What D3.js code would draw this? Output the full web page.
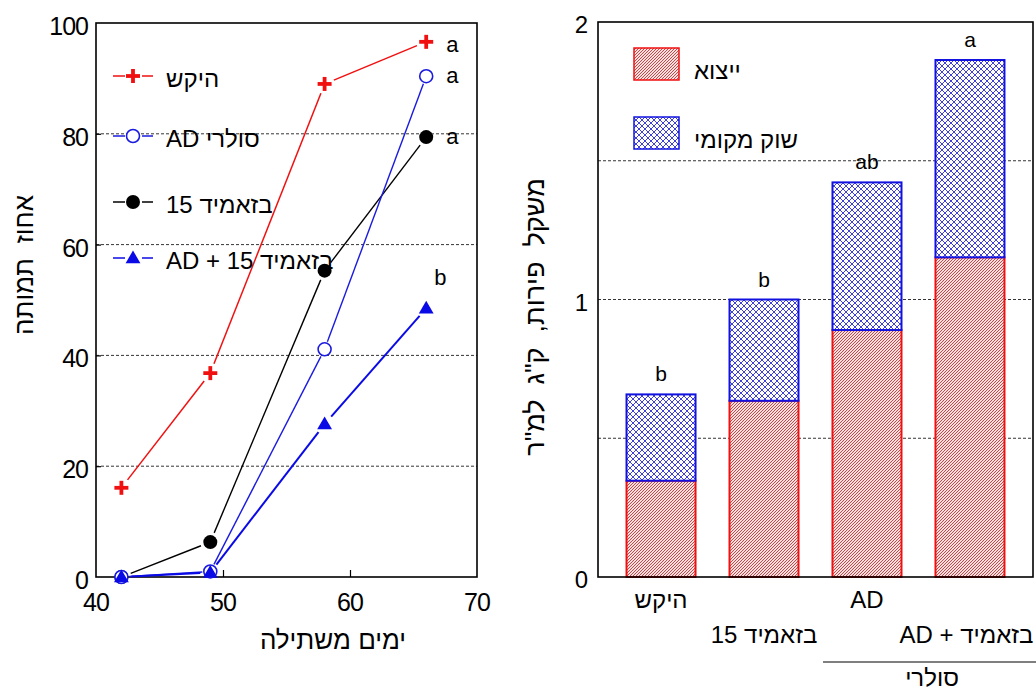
<!DOCTYPE html>
<html>
<head>
<meta charset="utf-8">
<script src="https://cdn.jsdelivr.net/npm/d3@7"></script>
<style>
  html, body { margin: 0; padding: 0; background: #fff; }
  svg { display: block; }
  text { font-family: "Liberation Sans", Arial, sans-serif; fill: #000; }
</style>
</head>
<body>
<svg id="chart" width="1036" height="693"></svg>
<script>
// ---- Mortality over time (left panel) ----
const days = [42, 49, 58, 66];
const xTicks = [40, 50, 60, 70];
const yTicksLeft = [0, 20, 40, 60, 80, 100];
const seriesNames = ["היקש", "AD סולרי", "15 בזאמיד", "AD + 15 בזאמיד"];
const controlVals = [16.1, 36.8, 89.0, 96.6];
const solarADVals = [0, 1.0, 41.1, 90.4];
const basamidVals = [0, 6.3, 55.3, 79.4];
const basamidADVals = [0, 0.8, 27.6, 48.5];
const mortalityLetters = ["a", "a", "a", "b"];

// ---- Fruit yield (right panel) ----
const treatments = ["היקש", "15 בזאמיד", "AD", "AD + בזאמיד"];
const exportVals = [0.347, 0.635, 0.890, 1.152];
const localVals = [0.311, 0.365, 0.532, 0.711];
const yieldLetters = ["b", "b", "ab", "a"];
const yTicksRight = [0, 1, 2];
const yGridRight = [0.5, 1, 1.5];
const stackNames = ["ייצוא", "שוק מקומי"];

const svg = d3.select("#chart");

// patterns for the stacked bars
const defs = svg.append("defs");
const hatch = defs.append("pattern").attr("id", "hatchRed")
  .attr("patternUnits", "userSpaceOnUse").attr("width", 3).attr("height", 3);
hatch.append("rect").attr("width", 3).attr("height", 3).attr("fill", "#f8e0e0");
hatch.append("path").attr("d", "M-1,1 l2,-2 M0,3 l3,-3 M2,4 l2,-2")
  .attr("stroke", "#bf3535").attr("stroke-width", 0.9);

const cross = defs.append("pattern").attr("id", "crossBlue")
  .attr("patternUnits", "userSpaceOnUse").attr("width", 6).attr("height", 6);
cross.append("rect").attr("width", 6).attr("height", 6).attr("fill", "#fff");
cross.append("path").attr("d", "M0,0 L6,6 M6,0 L0,6 M-1,5 l2,2 M5,-1 l2,2 M-1,1 l2,-2 M5,7 l2,-2")
  .attr("stroke", "#2a2ad0").attr("stroke-width", 0.9);

/* ================= LEFT PANEL ================= */
const xL = d3.scaleLinear().domain([40, 70]).range([96, 477]);
const yL = d3.scaleLinear().domain([0, 100]).range([577, 23]);
const left = svg.append("g");

// dashed gridlines
left.selectAll("line.grid").data([20, 40, 60, 80]).enter().append("line")
  .attr("x1", xL(40)).attr("x2", xL(70))
  .attr("y1", d => yL(d)).attr("y2", d => yL(d))
  .attr("stroke", "#000").attr("stroke-width", 0.8).attr("stroke-dasharray", "3,2");

// axes (ticks inward, labels drawn separately)
const axL = left.append("g").attr("transform", `translate(${xL(40)},0)`)
  .call(d3.axisRight(yL).tickValues([20, 40, 60, 80]).tickSize(5).tickFormat(""));
const axB = left.append("g").attr("transform", `translate(0,${yL(0)})`)
  .call(d3.axisTop(xL).tickValues([50, 60]).tickSize(7).tickFormat(""));
[axL, axB].forEach(a => { a.select(".domain").remove(); a.selectAll("line").attr("stroke-width", 1.2); });

left.selectAll("text.ytick").data(yTicksLeft).enter().append("text")
  .attr("x", 88).attr("y", d => yL(d) + 12).attr("text-anchor", "end")
  .attr("font-size", 25).attr("letter-spacing", -1).text(d => d);
left.selectAll("text.xtick").data(xTicks).enter().append("text")
  .attr("x", d => xL(d)).attr("y", 611).attr("text-anchor", "middle")
  .attr("font-size", 25).attr("letter-spacing", -1).text(d => d);

left.append("rect").attr("x", xL(40)).attr("y", yL(100))
  .attr("width", xL(70) - xL(40)).attr("height", yL(0) - yL(100))
  .attr("fill", "none").attr("stroke", "#000").attr("stroke-width", 1.6);

left.append("text").attr("x", 333).attr("y", 649).attr("text-anchor", "middle")
  .attr("font-size", 26).text("ימים משתילה");
left.append("text").attr("transform", "translate(33,265) rotate(-90)")
  .attr("text-anchor", "middle").attr("font-size", 26)
  .style("white-space", "pre").text("אחוז  תמותה");

// marker drawing
function drawMarker(g, kind, cx, cy) {
  if (kind === "cross") {
    g.append("line").attr("x1", cx - 7).attr("x2", cx + 7).attr("y1", cy).attr("y2", cy)
      .attr("stroke", "#f01010").attr("stroke-width", 3.8);
    g.append("line").attr("x1", cx).attr("x2", cx).attr("y1", cy - 7).attr("y2", cy + 7)
      .attr("stroke", "#f01010").attr("stroke-width", 3.8);
  } else if (kind === "circle") {
    g.append("circle").attr("cx", cx).attr("cy", cy).attr("r", 6.5)
      .attr("fill", "#fff").attr("stroke", "#1a1ae0").attr("stroke-width", 1.6);
  } else if (kind === "dot") {
    g.append("circle").attr("cx", cx).attr("cy", cy).attr("r", 7).attr("fill", "#000");
  } else {
    g.append("path").attr("transform", `translate(${cx},${cy + 1})`)
      .attr("d", d3.symbol(d3.symbolTriangle, 95)()).attr("fill", "#0a0ae6");
  }
}

const series = [
  { name: seriesNames[0], vals: controlVals, kind: "cross", color: "#f01010", w: 1.5, gap: 10 },
  { name: seriesNames[2], vals: basamidVals, kind: "dot", color: "#000", w: 1.4, gap: 10 },
  { name: seriesNames[1], vals: solarADVals, kind: "circle", color: "#1a1ae0", w: 1.4, gap: 8 },
  { name: seriesNames[3], vals: basamidADVals, kind: "triangle", color: "#0a0ae6", w: 2, gap: 10 }
];
const letterOf = { [seriesNames[0]]: mortalityLetters[0], [seriesNames[1]]: mortalityLetters[1],
                   [seriesNames[2]]: mortalityLetters[2], [seriesNames[3]]: mortalityLetters[3] };

series.forEach(s => {
  const g = left.append("g");
  const pts = days.map((d, i) => [xL(d), yL(s.vals[i])]);
  // connecting segments stop short of each symbol
  for (let i = 0; i < pts.length - 1; i++) {
    const [x1, y1] = pts[i], [x2, y2] = pts[i + 1];
    const len = Math.hypot(x2 - x1, y2 - y1);
    if (len <= 2 * s.gap) continue;
    const ux = (x2 - x1) / len, uy = (y2 - y1) / len;
    g.append("line")
      .attr("x1", x1 + ux * s.gap).attr("y1", y1 + uy * s.gap)
      .attr("x2", x2 - ux * s.gap).attr("y2", y2 - uy * s.gap)
      .attr("stroke", s.color).attr("stroke-width", s.w);
  }
  pts.forEach(p => drawMarker(g, s.kind, p[0], p[1]));
  // significance letter next to the final point
  const last = pts[pts.length - 1];
  const letter = letterOf[s.name];
  if (letter === "b") {
    left.append("text").attr("x", last[0] + 8).attr("y", last[1] - 23)
      .attr("font-size", 22).text(letter);
  } else {
    left.append("text").attr("x", last[0] + 20).attr("y", last[1] + 7 + (s.kind === "cross" ? 3 : 0))
      .attr("font-size", 22).text(letter);
  }
});

// legend
const legendRows = [
  { name: seriesNames[0], kind: "cross", color: "#f01010", y: 76 },
  { name: seriesNames[1], kind: "circle", color: "#1a1ae0", y: 136 },
  { name: seriesNames[2], kind: "dot", color: "#000", y: 202 },
  { name: seriesNames[3], kind: "triangle", color: "#0a0ae6", y: 258 }
];
legendRows.forEach(r => {
  const g = left.append("g");
  g.append("line").attr("x1", 113).attr("x2", 125).attr("y1", r.y).attr("y2", r.y)
    .attr("stroke", r.color).attr("stroke-width", 1.5);
  g.append("line").attr("x1", 142).attr("x2", 153).attr("y1", r.y).attr("y2", r.y)
    .attr("stroke", r.color).attr("stroke-width", 1.5);
  drawMarker(g, r.kind, 133, r.y);
  g.append("text").attr("x", 166).attr("y", r.y + 11).attr("font-size", 24).text(r.name);
});

/* ================= RIGHT PANEL ================= */
const xR = d3.scaleBand().domain(treatments).range([598, 1033])
  .paddingInner(0.33).paddingOuter(0.277);
const yR = d3.scaleLinear().domain([0, 2]).range([577, 22]);
const right = svg.append("g");

right.selectAll("line.grid").data(yGridRight).enter().append("line")
  .attr("x1", 598).attr("x2", 1033)
  .attr("y1", d => yR(d)).attr("y2", d => yR(d))
  .attr("stroke", "#000").attr("stroke-width", 0.8).attr("stroke-dasharray", "3,2");

const stackData = treatments.map((t, i) => ({ t, exp: exportVals[i], loc: localVals[i] }));
const stacked = d3.stack().keys(["exp", "loc"])(stackData);
const fills = { exp: "url(#hatchRed)", loc: "url(#crossBlue)" };
const strokes = { exp: "#f01010", loc: "#1212e0" };

stacked.forEach(layer => {
  right.append("g").selectAll("rect").data(layer).enter().append("rect")
    .attr("x", d => xR(d.data.t))
    .attr("y", d => yR(d[1]))
    .attr("width", xR.bandwidth())
    .attr("height", d => yR(d[0]) - yR(d[1]))
    .attr("fill", fills[layer.key])
    .attr("stroke", strokes[layer.key]).attr("stroke-width", 2);
});

right.selectAll("text.sig").data(stackData).enter().append("text")
  .attr("x", d => xR(d.t) + xR.bandwidth() / 2)
  .attr("y", d => yR(d.exp + d.loc) - 13)
  .attr("text-anchor", "middle").attr("font-size", 21)
  .text((d, i) => yieldLetters[i]);

right.append("rect").attr("x", 598).attr("y", yR(2))
  .attr("width", 1033 - 598).attr("height", yR(0) - yR(2))
  .attr("fill", "none").attr("stroke", "#000").attr("stroke-width", 1.6);

right.selectAll("text.ytick").data(yTicksRight).enter().append("text")
  .attr("x", 588).attr("y", d => yR(d) + 11).attr("text-anchor", "end")
  .attr("font-size", 24).text(d => d);

right.append("text").attr("transform", "translate(544,317) rotate(-90)")
  .attr("text-anchor", "middle").attr("font-size", 27)
  .style("white-space", "pre").text("משקל  פירות,  ק\"ג  למ\"ר");

// category labels on two staggered rows
treatments.forEach((t, i) => {
  const cx = xR(t) + xR.bandwidth() / 2;
  const row = i % 2;
  const txt = right.append("text").attr("y", row === 0 ? 608 : 643).attr("font-size", 24).text(t);
  if (i === treatments.length - 1) {
    txt.attr("x", xR(t) - 36).attr("text-anchor", "start");
  } else {
    txt.attr("x", cx).attr("text-anchor", "middle");
  }
});
// grouping bracket for the solarized treatments
right.append("line").attr("x1", 823).attr("x2", 1036).attr("y1", 662).attr("y2", 662)
  .attr("stroke", "#000").attr("stroke-width", 1.2);
right.append("text").attr("x", 932).attr("y", 686).attr("text-anchor", "middle")
  .attr("font-size", 24).text("סולרי");

// legend boxes
const legR = [
  { key: "exp", name: stackNames[0], y: 48 },
  { key: "loc", name: stackNames[1], y: 117 }
];
legR.forEach(r => {
  right.append("rect").attr("x", 634).attr("y", r.y).attr("width", 45).attr("height", 32)
    .attr("fill", fills[r.key]).attr("stroke", strokes[r.key]).attr("stroke-width", 1.5);
  right.append("text").attr("x", 694).attr("y", r.y + 31).attr("font-size", 24).text(r.name);
});
</script>
</body>
</html>
